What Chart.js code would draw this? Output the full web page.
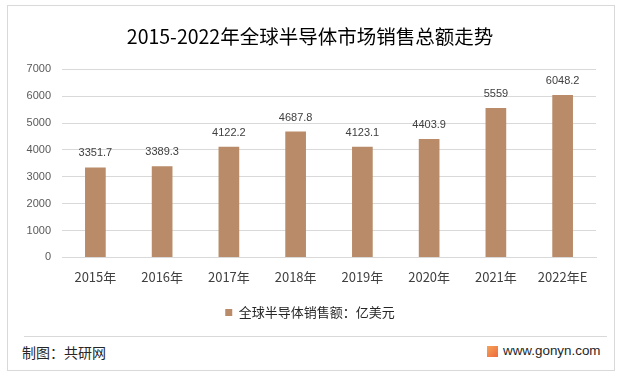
<!DOCTYPE html>
<html>
<head>
<meta charset="utf-8">
<script src="https://cdn.jsdelivr.net/npm/chart.js@4"></script>
<style>
  body { margin: 0; background: #fff; font-family: "Noto Sans CJK SC", sans-serif; }
  #page { position: relative; width: 622px; height: 376px; overflow: hidden; }
  #frame { position: absolute; left: 7px; top: 5px; width: 606px; height: 364px; border: 1px solid #d9d9d9; }
  #wrap { position: absolute; left: 24px; top: 0; width: 598px; height: 334px; }
  #rule { position: absolute; left: 24px; top: 336px; width: 583px; height: 0; border-top: 1px solid #d9d9d9; }
  #src { position: absolute; left: 22px; top: 342px; font-size: 14px; color: #262626; }
  #site { position: absolute; left: 503px; top: 343px; font-size: 13.4px; color: #262626; font-family: "Liberation Sans", sans-serif; }
  #logo { position: absolute; left: 487px; top: 346px; width: 11px; height: 11px; background: linear-gradient(135deg, #f5a35a, #ee6a3c); }
  .wm { position: absolute; color: rgba(0,0,0,0.018); font-weight: bold; transform: rotate(-20deg); white-space: nowrap; }
</style>
</head>
<body>
<div id="page">
  <div class="wm" style="left:60px;top:10px;font-size:34px;">共研网</div>
  <div class="wm" style="left:340px;top:200px;font-size:34px;">共研网</div>
  <div class="wm" style="left:20px;top:250px;font-size:34px;">共研网</div>
  <div class="wm" style="left:430px;top:330px;font-size:34px;">共研网</div>
  <div id="frame"></div>
  <div id="wrap"><canvas id="chart"></canvas></div>
  <div id="rule"></div>
  <div id="src">制图：共研网</div>
  <div id="logo"></div>
  <div id="site">www.gonyn.com</div>
</div>
<script>
const years = ["2015年", "2016年", "2017年", "2018年", "2019年", "2020年", "2021年", "2022年E"];
const sales = [3351.7, 3389.3, 4122.2, 4687.8, 4123.1, 4403.9, 5559, 6048.2];
const seriesName = "全球半导体销售额：亿美元";
const chartTitle = "2015-2022年全球半导体市场销售总额走势";

const barColor = "#b98b69";

const valueLabels = {
  id: "valueLabels",
  afterDatasetsDraw(chart) {
    const ctx = chart.ctx;
    const meta = chart.getDatasetMeta(0);
    ctx.save();
    ctx.font = "11px 'Liberation Sans', sans-serif";
    ctx.fillStyle = "#404040";
    ctx.textAlign = "center";
    ctx.textBaseline = "middle";
    meta.data.forEach((bar, i) => {
      ctx.fillText(String(sales[i]), bar.x, bar.y - 14);
    });
    ctx.restore();
  }
};

const ctx = document.getElementById("chart");
new Chart(ctx, {
  type: "bar",
  data: {
    labels: years,
    datasets: [{
      label: seriesName,
      data: sales,
      backgroundColor: barColor,
      categoryPercentage: 1,
      barPercentage: 0.31
    }]
  },
  options: {
    responsive: true,
    maintainAspectRatio: false,
    animation: false,
    layout: { padding: { left: 0, right: 26, top: 0, bottom: 5 } },
    plugins: {
      title: {
        display: true,
        text: chartTitle,
        color: "#000",
        font: { family: "'Noto Sans CJK SC', sans-serif", size: 19.5, weight: "normal" },
        padding: { top: 25, bottom: 21 }
      },
      legend: {
        position: "bottom",
        labels: {
          color: "#262626",
          font: { family: "'Noto Sans CJK SC', sans-serif", size: 13 },
          boxWidth: 7,
          boxHeight: 7,
          padding: 9
        }
      },
      tooltip: { enabled: false }
    },
    scales: {
      x: {
        grid: { display: false, drawTicks: false },
        border: { color: "#d9d9d9" },
        ticks: {
          color: "#404040",
          padding: 12,
          font: { family: "'Noto Sans CJK SC', sans-serif", size: 13 }
        }
      },
      y: {
        min: 0,
        max: 7000,
        afterFit(scale) { scale.width = 38; },
        grid: { color: "#d9d9d9", drawTicks: false },
        border: { display: false },
        ticks: {
          stepSize: 1000,
          color: "#595959",
          padding: 11,
          callback: (v) => String(v),
          font: { family: "'Liberation Sans', sans-serif", size: 11 }
        }
      }
    }
  },
  plugins: [valueLabels]
});
</script>
</body>
</html>
